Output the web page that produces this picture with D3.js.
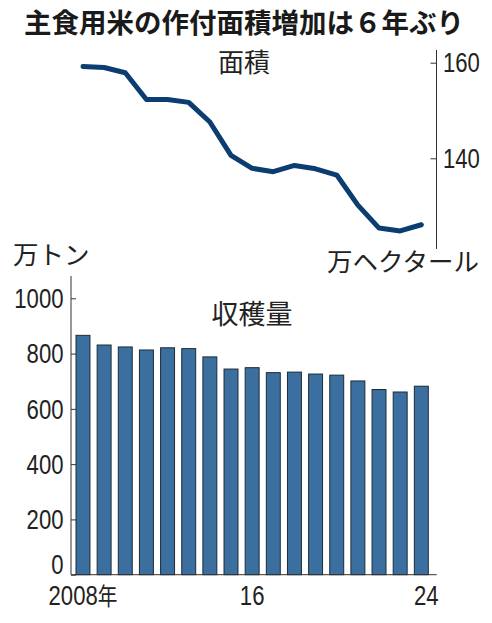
<!DOCTYPE html>
<html>
<head>
<meta charset="utf-8">
<script src="https://cdn.jsdelivr.net/npm/d3@7"></script>
<style>
  body { margin: 0; background: #fff; }
  svg { display: block; }
</style>
</head>
<body>
<script>
// 主食用米: 作付面積 (line, 万ha) and 収穫量 (bars, 万トン), 2008-2024

const years = [2008, 2009, 2010, 2011, 2012, 2013, 2014, 2015, 2016, 2017, 2018, 2019, 2020, 2021, 2022, 2023, 2024];
const harvest = [866, 831, 824, 813, 821, 818, 788, 744, 749, 731, 733, 726, 722, 701, 670, 661, 682];
const area = [159.2, 159.0, 157.9, 152.3, 152.3, 151.7, 147.6, 140.6, 137.9, 137.2, 138.5, 137.8, 136.5, 130.2, 125.4, 124.8, 126.1];

const harvestTicks = [0, 200, 400, 600, 800, 1000];
const areaTicks = [140, 160];
const xLabels = {2008: "2008", 2016: "16", 2024: "24"};

const W = 492, H = 623;
const numFont = "'Liberation Sans', Arial, sans-serif";
const jpFont = "'Noto Sans CJK JP', 'Noto Sans', sans-serif";
const narrow = 0.82; // the numbers in the original are a condensed face

const svg = d3.select("body").append("svg")
    .attr("width", W)
    .attr("height", H);

// scales
const x = d3.scaleBand()
    .domain(years)
    .range([76, 428.3])
    .paddingInner(0.34)
    .paddingOuter(0);

const yBar = d3.scaleLinear()
    .domain([0, 1000])
    .range([574.7, 298.3]);

const yLine = d3.scaleLinear()
    .domain([140, 160])
    .range([158.3, 62.7]);

// title
svg.append("text")
    .attr("x", 244)
    .attr("y", 33)
    .attr("text-anchor", "middle")
    .style("font-family", jpFont)
    .style("font-weight", "bold")
    .style("font-size", "27.5px")
    .style("fill", "#1a1a1a")
    .text("主食用米の作付面積増加は６年ぶり");

// ---- top: area line ----
svg.append("text")
    .attr("x", 244)
    .attr("y", 72)
    .attr("text-anchor", "middle")
    .style("font-family", jpFont)
    .style("font-size", "26px")
    .style("fill", "#222")
    .text("面積");

const rightAxis = svg.append("g")
    .attr("transform", "translate(436.5,0)")
    .call(d3.axisLeft(yLine).tickValues(areaTicks).tickSize(6).tickFormat(""));
rightAxis.select(".domain").remove();
rightAxis.selectAll("line").attr("stroke", "#333");

svg.append("line")
    .attr("x1", 436.5).attr("x2", 436.5)
    .attr("y1", 50).attr("y2", 249)
    .attr("stroke", "#333")
    .attr("stroke-width", 1);

svg.append("g").selectAll("text")
    .data(areaTicks)
    .enter()
    .append("text")
    .attr("transform", d => `translate(443,${yLine(d)}) scale(${narrow},1)`)
    .attr("dy", "0.36em")
    .style("font-family", numFont)
    .style("font-size", "27px")
    .style("fill", "#222")
    .text(d => d);

const line = d3.line()
    .x((d, i) => x(years[i]) + x.bandwidth() / 2)
    .y(d => yLine(d));

svg.append("path")
    .datum(area)
    .attr("d", line)
    .style("fill", "none")
    .style("stroke", "#0c3d70")
    .style("stroke-width", 5)
    .style("stroke-linejoin", "round")
    .style("stroke-linecap", "round");

svg.append("text")
    .attr("x", 327)
    .attr("y", 271)
    .style("font-family", jpFont)
    .style("font-size", "25.5px")
    .style("fill", "#222")
    .text("万ヘクタール");

// ---- bottom: harvest bars ----
svg.append("text")
    .attr("x", 13)
    .attr("y", 264)
    .style("font-family", jpFont)
    .style("font-size", "25.5px")
    .style("fill", "#222")
    .text("万トン");

svg.append("text")
    .attr("x", 252)
    .attr("y", 324)
    .attr("text-anchor", "middle")
    .style("font-family", jpFont)
    .style("font-size", "27px")
    .style("fill", "#222")
    .text("収穫量");

svg.append("g").selectAll("rect")
    .data(harvest)
    .enter()
    .append("rect")
    .attr("x", (d, i) => x(years[i]))
    .attr("y", d => yBar(d))
    .attr("width", x.bandwidth())
    .attr("height", d => yBar(0) - yBar(d))
    .attr("fill", "#3a6f9f")
    .attr("stroke", "#1e2b38")
    .attr("stroke-width", 1);

const leftAxis = svg.append("g")
    .attr("transform", "translate(71,0)")
    .call(d3.axisRight(yBar).tickValues(harvestTicks).tickSize(5).tickFormat(""));
leftAxis.select(".domain").remove();
leftAxis.selectAll("line").attr("stroke", "#333");

svg.append("line")
    .attr("x1", 71).attr("x2", 71)
    .attr("y1", 276).attr("y2", 574.7)
    .attr("stroke", "#333");

// the 0 label sits on the baseline, the others are centred on their tick
svg.append("g").selectAll("text")
    .data(harvestTicks)
    .enter()
    .append("text")
    .attr("transform", d => `translate(63.5,${yBar(d)}) scale(${narrow},1)`)
    .attr("dy", d => d === 0 ? "-0.02em" : "0.36em")
    .attr("text-anchor", "end")
    .style("font-family", numFont)
    .style("font-size", "27px")
    .style("fill", "#222")
    .text(d => d);

// x axis baseline
svg.append("line")
    .attr("x1", 71).attr("x2", 436.7)
    .attr("y1", yBar(0)).attr("y2", yBar(0))
    .attr("stroke", "#333");

const xl = svg.append("g").selectAll("text")
    .data(years.filter(y => xLabels[y]))
    .enter()
    .append("text")
    .attr("transform", d => `translate(${x(d) + x.bandwidth() / 2 + (d === 2024 ? 5 : 0)},605) scale(${narrow},1)`)
    .attr("text-anchor", "middle")
    .style("font-family", numFont)
    .style("font-size", "27px")
    .style("fill", "#222");

xl.append("tspan").text(d => xLabels[d]);
xl.filter(d => d === 2008).append("tspan")
    .style("font-family", jpFont)
    .style("font-size", "24px")
    .text("年");
</script>
</body>
</html>
